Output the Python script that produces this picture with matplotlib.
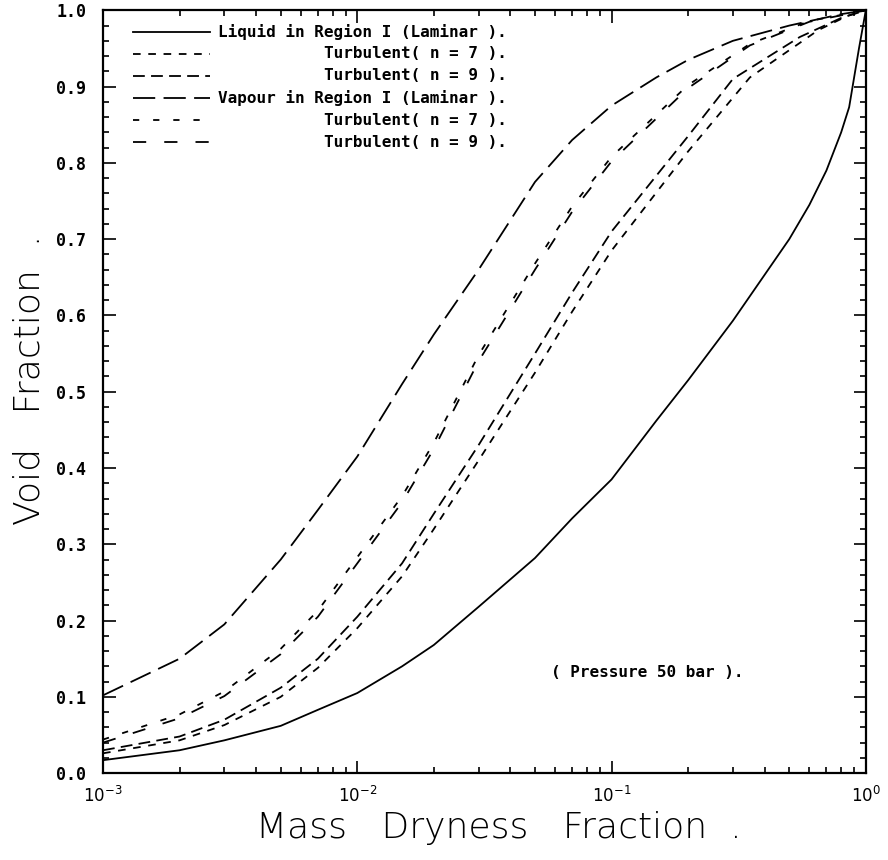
import matplotlib
matplotlib.use("Agg")
import matplotlib.pyplot as plt
from matplotlib.ticker import MultipleLocator, LogLocator, NullFormatter, FormatStrFormatter

plt.rcParams['lines.scale_dashes'] = False
plt.rcParams['mathtext.default'] = 'bf'

# dryness fraction values and void fractions
liq_lam_x = [1e-3, 2e-3, 3e-3, 5e-3, 7e-3, 1e-2, 1.5e-2, 2e-2, 3e-2, 5e-2, 7e-2, 0.1, 0.15, 0.2, 0.3, 0.5, 0.6, 0.7, 0.8, 0.86, 0.94, 1.0]
liq_lam_y = [0.017, 0.030, 0.043, 0.062, 0.083, 0.105, 0.140, 0.168, 0.218, 0.282, 0.334, 0.385, 0.462, 0.515, 0.593, 0.70, 0.745, 0.79, 0.84, 0.873, 0.95, 1.0]

liq_n7_x = [1e-3, 2e-3, 3e-3, 5e-3, 7e-3, 1e-2, 1.5e-2, 2e-2, 3e-2, 5e-2, 7e-2, 0.1, 0.2, 0.35, 0.65, 0.85, 1.0]
liq_n7_y = [0.026, 0.043, 0.063, 0.100, 0.138, 0.190, 0.258, 0.320, 0.410, 0.525, 0.605, 0.685, 0.815, 0.912, 0.974, 0.993, 1.0]

liq_n9_x = [1e-3, 2e-3, 3e-3, 5e-3, 7e-3, 1e-2, 1.5e-2, 2e-2, 3e-2, 5e-2, 7e-2, 0.1, 0.2, 0.3, 0.55, 0.8, 1.0]
liq_n9_y = [0.030, 0.048, 0.070, 0.112, 0.150, 0.205, 0.275, 0.340, 0.430, 0.550, 0.630, 0.710, 0.835, 0.910, 0.965, 0.990, 1.0]

vap_lam_x = [1e-3, 2e-3, 3e-3, 5e-3, 7e-3, 1e-2, 1.5e-2, 2e-2, 3e-2, 5e-2, 7e-2, 0.1, 0.15, 0.2, 0.3, 0.5, 0.8, 1.0]
vap_lam_y = [0.102, 0.150, 0.195, 0.280, 0.345, 0.415, 0.510, 0.575, 0.660, 0.775, 0.830, 0.875, 0.912, 0.935, 0.960, 0.980, 0.995, 1.0]

vap_n7_x = [1e-3, 2e-3, 3e-3, 5e-3, 7e-3, 1e-2, 1.5e-2, 2e-2, 3e-2, 5e-2, 7e-2, 0.1, 0.2, 0.35, 0.6, 1.0]
vap_n7_y = [0.044, 0.077, 0.107, 0.163, 0.213, 0.283, 0.363, 0.433, 0.548, 0.668, 0.743, 0.808, 0.902, 0.956, 0.986, 1.0]

vap_n9_x = [1e-3, 2e-3, 3e-3, 5e-3, 7e-3, 1e-2, 1.5e-2, 2e-2, 3e-2, 5e-2, 7e-2, 0.1, 0.2, 0.35, 0.6, 1.0]
vap_n9_y = [0.040, 0.072, 0.101, 0.156, 0.205, 0.275, 0.355, 0.425, 0.540, 0.660, 0.736, 0.802, 0.898, 0.954, 0.985, 1.0]

labels = ["Liquid in Region I (Laminar ).",
          "Turbulent( n = 7 ).",
          "Turbulent( n = 9 ).",
          "Vapour in Region I (Laminar ).",
          "Turbulent( n = 7 ).",
          "Turbulent( n = 9 )."]

styles = ['-', (0, (5.5, 5.5)), (0, (8.5, 4.5)), (0, (16, 6)), (0, (4.5, 10)), (0, (9.5, 13))]

series = [(liq_lam_x, liq_lam_y), (liq_n7_x, liq_n7_y), (liq_n9_x, liq_n9_y),
          (vap_lam_x, vap_lam_y), (vap_n7_x, vap_n7_y), (vap_n9_x, vap_n9_y)]

mono = 'DejaVu Sans Mono'

fig = plt.figure(figsize=(8.88, 8.6), dpi=100)
ax = fig.add_axes([0.116, 0.101, 0.859, 0.887])

for (xs, ys), ls in zip(series, styles):
    ax.plot(xs, ys, color='black', lw=1.3, linestyle=ls)

ax.set_xscale('log')
ax.set_xlim(1e-3, 1.0)
ax.set_ylim(0.0, 1.0)

ax.yaxis.set_major_locator(MultipleLocator(0.1))
ax.yaxis.set_minor_locator(MultipleLocator(0.02))
ax.yaxis.set_major_formatter(FormatStrFormatter('%.1f'))
ax.xaxis.set_major_locator(LogLocator(base=10))
ax.xaxis.set_minor_locator(LogLocator(base=10, subs=range(2, 10)))
ax.xaxis.set_minor_formatter(NullFormatter())
ax.tick_params(which='both', direction='in', top=True, right=True, width=1.2)
ax.tick_params(which='major', length=9)
ax.tick_params(which='minor', length=4)
ax.tick_params(axis='y', labelsize=12, pad=12)
ax.tick_params(axis='x', labelsize=12, pad=9)
for lab in ax.get_yticklabels():
    lab.set_fontweight('bold')
    lab.set_family(mono)
for sp in ax.spines.values():
    sp.set_linewidth(1.6)

ax.set_xlabel("Mass   Dryness   Fraction  .", fontsize=26, fontweight='light')
ax.set_ylabel("Void   Fraction  .", fontsize=26, fontweight='light')
ax.xaxis.label.set_va('center')
ax.yaxis.label.set_va('center')
ax.xaxis.set_label_coords(0.519, -0.072)
ax.yaxis.set_label_coords(-0.096, 0.515)

# hand-drawn style legend in the upper left
row_y = [0.972, 0.943, 0.914, 0.885, 0.856, 0.827]
for i, (lab, ls) in enumerate(zip(labels, styles)):
    ax.plot([0.039, 0.140], [row_y[i], row_y[i]], transform=ax.transAxes,
            color='black', lw=1.3, linestyle=ls)
    if lab.startswith("Turbulent"):
        ax.text(0.53, row_y[i], lab, transform=ax.transAxes, ha='right', va='center',
                fontsize=11.5, fontweight='bold', family=mono)
    else:
        ax.text(0.151, row_y[i], lab, transform=ax.transAxes, ha='left', va='center',
                fontsize=11.5, fontweight='bold', family=mono)

ax.text(0.058, 0.132, "( Pressure 50 bar ).", fontsize=11.5, fontweight='bold',
        family=mono, va='center')

fig.savefig("out.png", dpi=100)
